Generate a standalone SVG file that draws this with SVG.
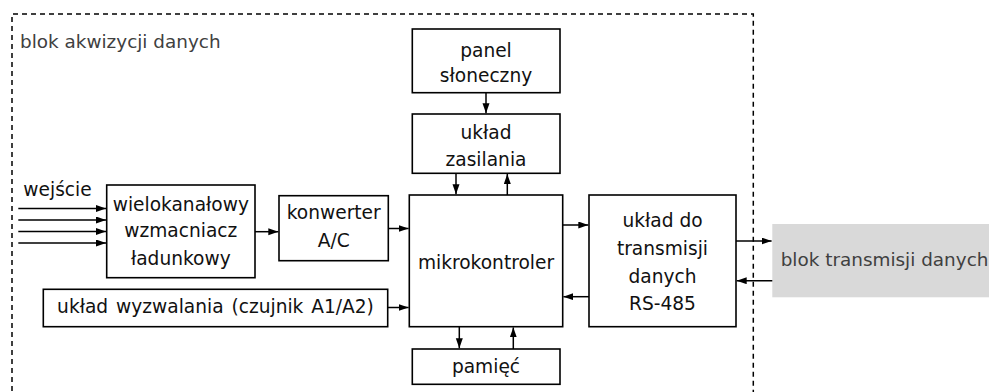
<svg xmlns="http://www.w3.org/2000/svg" width="989" height="392" viewBox="0 0 989 392">
<defs>
<marker id="ah" markerWidth="11" markerHeight="8" refX="10" refY="3.5" orient="auto" markerUnits="userSpaceOnUse">
<path d="M0,0 L10,3.5 L0,7 Z" fill="#000"/>
</marker>
<style>
.box{fill:#fff;stroke:#000;stroke-width:1.6}
.t{font-family:"DejaVu Sans",sans-serif;font-size:18.6px;fill:#111;text-anchor:middle}
.g{font-family:"DejaVu Sans",sans-serif;font-size:18.4px;fill:#404040}
.c{fill:none;stroke:#000;stroke-width:1.5;marker-end:url(#ah)}
</style>
</defs>
<rect width="989" height="392" fill="#fff"/>
<g id="frame">
<path d="M12,400 V14 H753.3 V400" fill="none" stroke="#000" stroke-width="1.5" stroke-dasharray="5,4"/>
<text class="g" x="20" y="48">blok akwizycji danych</text>
</g>
<g id="gray-block">
<rect x="772.3" y="224" width="230" height="73.3" fill="#d9d9d9"/>
<text class="g" x="780.7" y="266">blok transmisji danych</text>
</g>
<g id="panel">
<rect class="box" x="412.3" y="29" width="147.7" height="63.7"/>
<text class="t" x="486" y="56.5">panel</text>
<text class="t" x="486" y="81.7">słoneczny</text>
</g>
<g id="zasilanie">
<rect class="box" x="412.3" y="114" width="147.7" height="59.3"/>
<text class="t" x="486" y="139">układ</text>
<text class="t" x="486" y="166.3">zasilania</text>
</g>
<g id="wejscie">
<text class="t" x="57.5" y="196">wejście</text>
</g>
<g id="wzmacniacz">
<rect class="box" x="106.7" y="185" width="148.3" height="92.7"/>
<text class="t" x="180.8" y="210.7">wielokanałowy</text>
<text class="t" x="180.8" y="237.3">wzmacniacz</text>
<text class="t" x="180.8" y="264.5">ładunkowy</text>
</g>
<g id="konwerter">
<rect class="box" x="279" y="195.7" width="109.3" height="65"/>
<text class="t" x="333.7" y="219.3">konwerter</text>
<text class="t" x="333.7" y="246.7">A/C</text>
</g>
<g id="wyzwalanie">
<rect class="box" x="43.3" y="289.3" width="344.4" height="37.4"/>
<text class="t" x="215.5" y="313.3" word-spacing="2">układ wyzwalania (czujnik A1/A2)</text>
</g>
<g id="mikrokontroler">
<rect class="box" x="409.3" y="195" width="153.4" height="131.7"/>
<text class="t" x="486" y="269.3">mikrokontroler</text>
</g>
<g id="rs485">
<rect class="box" x="589" y="195" width="147" height="131.7"/>
<text class="t" x="662.5" y="226.7">układ do</text>
<text class="t" x="662.5" y="255">transmisji</text>
<text class="t" x="662.5" y="282.7">danych</text>
<text class="t" x="662.5" y="310">RS-485</text>
</g>
<g id="pamiec">
<rect class="box" x="412.3" y="349" width="147.7" height="35.3"/>
<text class="t" x="486" y="373.3">pamięć</text>
</g>
<g id="connectors">
<path class="c" d="M18.3,208.5 H106"/>
<path class="c" d="M18.3,220 H106"/>
<path class="c" d="M18.3,231.5 H106"/>
<path class="c" d="M18.3,243 H106"/>
<path class="c" d="M255,231.7 H278.3"/>
<path class="c" d="M388.3,228.5 H408.6"/>
<path class="c" d="M387.7,307.5 H408.6"/>
<path class="c" d="M486,92.7 V113.3"/>
<path class="c" d="M456,173.3 V194.3"/>
<path class="c" d="M507.3,195 V174"/>
<path class="c" d="M562.7,225 H588.3"/>
<path class="c" d="M589,296.7 H563.4"/>
<path class="c" d="M459.3,326.7 V348.3"/>
<path class="c" d="M513.3,349 V327.4"/>
<path class="c" d="M736,241 H771.6"/>
<path class="c" d="M772.3,280.7 H736.7"/>
</g>
</svg>
